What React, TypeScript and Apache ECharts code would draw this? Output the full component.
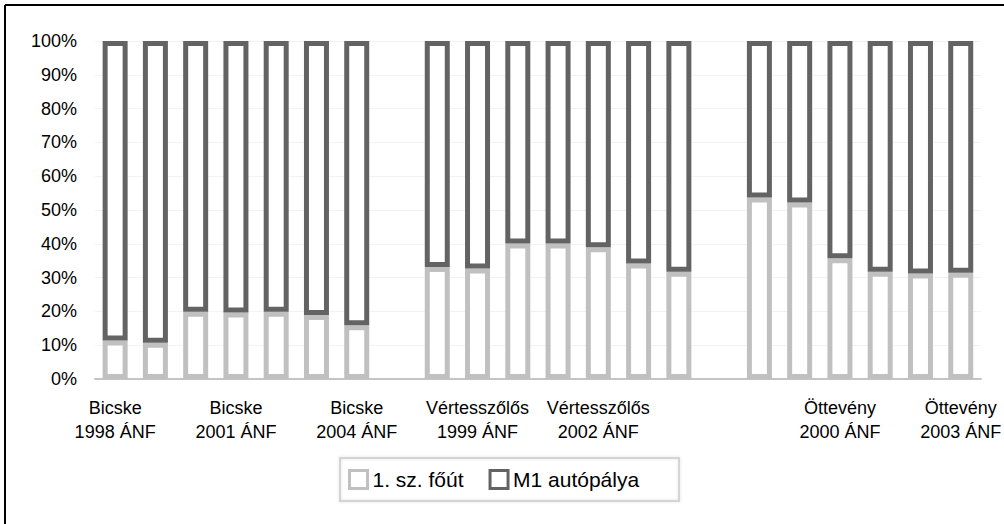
import React, { useEffect, useRef } from "react";
import * as echarts from "echarts";

// Share of traffic between the main road and the motorway, per counting year (ÁNF)
const categories: string[] = [
  "Bicske\n1998 ÁNF", "Bicske\n1999 ÁNF", "Bicske\n2000 ÁNF", "Bicske\n2001 ÁNF",
  "Bicske\n2002 ÁNF", "Bicske\n2003 ÁNF", "Bicske\n2004 ÁNF",
  "",
  "Vértesszőlős\n1998 ÁNF", "Vértesszőlős\n1999 ÁNF", "Vértesszőlős\n2000 ÁNF", "Vértesszőlős\n2001 ÁNF",
  "Vértesszőlős\n2002 ÁNF", "Vértesszőlős\n2003 ÁNF", "Vértesszőlős\n2004 ÁNF",
  "",
  "Öttevény\n1998 ÁNF", "Öttevény\n1999 ÁNF", "Öttevény\n2000 ÁNF", "Öttevény\n2001 ÁNF",
  "Öttevény\n2002 ÁNF", "Öttevény\n2003 ÁNF",
];

// 1. sz. főút share (%)
const mainRoad: (number | null)[] = [
  11.4, 10.7, 19.9, 19.7, 19.9, 18.9, 15.9,
  null,
  33.1, 32.7, 40.1, 40.1, 39.0, 34.2, 31.7,
  null,
  53.7, 52.2, 35.7, 31.7, 31.2, 31.4,
];

// M1 autópálya share (%) = remainder of each column
const motorway: (number | null)[] = mainRoad.map((v) => (v === null ? null : +(100 - v).toFixed(1)));

const yTicks = { min: 0, max: 100, interval: 10 };

const FONT = "Arial, 'Liberation Sans', Helvetica, sans-serif";

export default function App() {
  const ref = useRef<HTMLDivElement>(null);

  useEffect(() => {
    if (!ref.current) return;
    const chart = echarts.init(ref.current, null, { renderer: "svg" });
    chart.setOption({
      animation: false,
      backgroundColor: "#ffffff",
      textStyle: { fontFamily: FONT },
      graphic: [
        { type: "line", shape: { x1: 5, y1: 5, x2: 1004, y2: 5 }, style: { stroke: "#000", lineWidth: 2 } },
        { type: "line", shape: { x1: 5, y1: 5, x2: 5, y2: 524 }, style: { stroke: "#000", lineWidth: 2 } },
      ],
      grid: { left: 95, right: 12, top: 41, bottom: 145, containLabel: false },
      legend: {
        left: 340,
        top: 458,
        itemWidth: 18,
        itemHeight: 18,
        itemGap: 25,
        padding: [11, 40, 11, 8],
        borderColor: "#d4d4d4",
        borderWidth: 2,
        shadowColor: "rgba(0,0,0,0.12)",
        shadowBlur: 3,
        icon: "rect",
        itemStyle: { borderWidth: 3 },
        textStyle: { fontSize: 21, color: "#000", fontFamily: FONT },
        data: ["1. sz. főút", "M1 autópálya"],
      },
      xAxis: {
        type: "category",
        data: categories,
        axisLine: { show: true, lineStyle: { color: "#c4c4c4", width: 2 } },
        axisTick: { show: false },
        axisLabel: {
          interval: 2,
          fontSize: 18,
          lineHeight: 24,
          color: "#000",
          margin: 17,
          fontFamily: FONT,
        },
        splitLine: { show: false },
      },
      yAxis: {
        type: "value",
        min: yTicks.min,
        max: yTicks.max,
        interval: yTicks.interval,
        axisLine: { show: false },
        axisTick: { show: false },
        axisLabel: { formatter: "{value}%", fontSize: 18, color: "#000", margin: 18, fontFamily: FONT },
        splitLine: { show: true, lineStyle: { color: "#f2f2f2", width: 1 } },
      },
      series: [
        {
          name: "1. sz. főút",
          type: "bar",
          stack: "share",
          barWidth: 25,
          data: mainRoad,
          itemStyle: { color: "#ffffff", borderColor: "#c0c0c0", borderWidth: 5 },
        },
        {
          name: "M1 autópálya",
          type: "bar",
          stack: "share",
          barWidth: 25,
          data: motorway,
          itemStyle: { color: "#ffffff", borderColor: "#636363", borderWidth: 5 },
        },
      ],
    });
    return () => chart.dispose();
  }, []);

  return (
    <div
      style={{
        position: "fixed",
        left: 0,
        top: 0,
        width: 1004,
        height: 524,
        overflow: "hidden",
        background: "#fff",
      }}
    >
      <div ref={ref} style={{ width: 1004, height: 524 }} />
    </div>
  );
}
